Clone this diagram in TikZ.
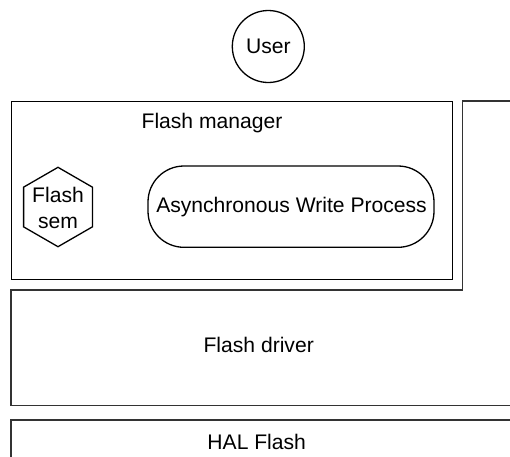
\documentclass[tikz,border=0pt]{standalone}
\usepackage{fontspec}
\setmainfont{Liberation Sans}
\begin{document}
\begin{tikzpicture}[x=1pt,y=-1pt,
  every node/.style={font=\fontsize{21.1}{26.5}\selectfont, inner sep=0pt},
  frame/.style={draw=black, line width=1.3pt},
  lab/.style={}]
\useasboundingbox (0,0) rectangle (510,456);
\clip (0,0) rectangle (510,456);
% User
\node[frame, circle, minimum size=72] (user) at (268.3,46.5) {User};
% Flash manager
\node[frame, rectangle, anchor=north west, minimum width=441, minimum height=178.3] (mgr) at (11,100.7) {};
\node[lab] (mgrlab) at (212,123.3) {Flash manager};
% L-shaped Flash driver
\draw[frame, draw=black!80] (11,290) -- (462.3,290) -- (462.3,101) -- (530,101) -- (530,405.7) -- (11,405.7) -- cycle;
\node[lab] (drvlab) at (258.7,345) {Flash driver};
% HAL Flash
\draw[frame, draw=black!80] (11,420) rectangle (530,480);
\node[lab] (hallab) at (256.7,441.7) {HAL Flash};
% Hexagon
\draw[frame] (58,167.3) -- (92.4,187.15) -- (92.4,226.85) -- (58,246.7) -- (23.6,226.85) -- (23.6,187.15) -- cycle;
\node[lab, align=center] (sem) at (58,208) {Flash\\sem};
% Async write process
\draw[frame, rounded corners=36] (148,166) rectangle (434,247.3);
\node[lab] (awp) at (291.5,207) {Asynchronous Write Process};
\end{tikzpicture}
\end{document}
